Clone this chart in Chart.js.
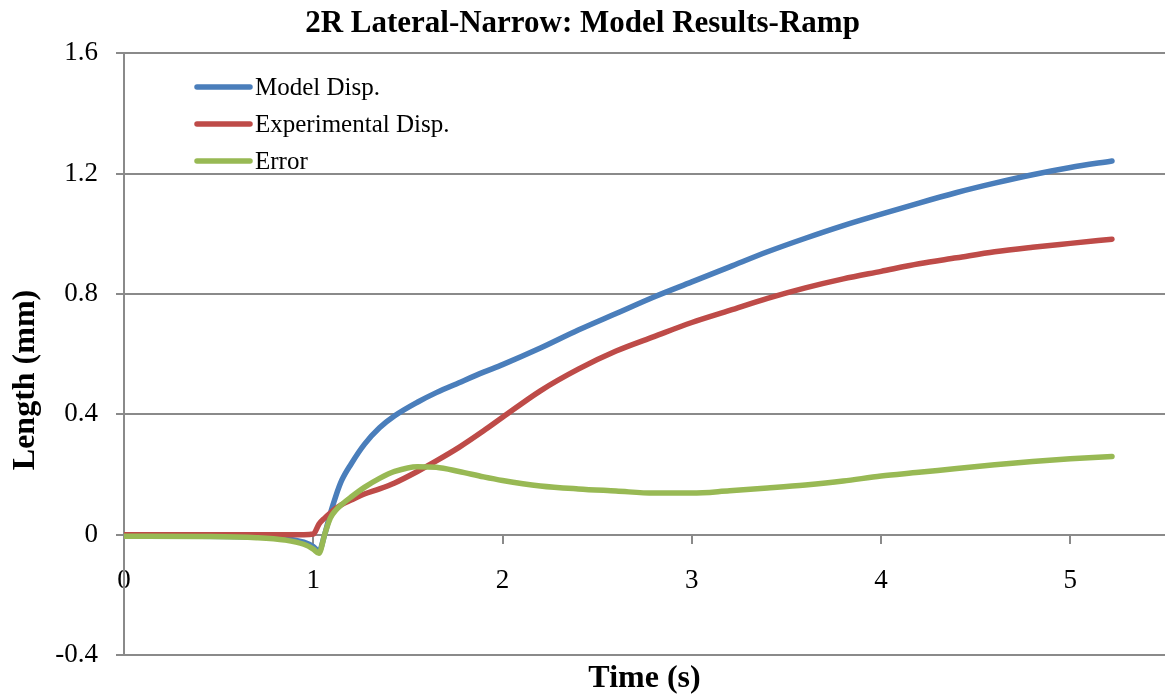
<!DOCTYPE html>
<html>
<head>
<meta charset="utf-8">
<title>2R Lateral-Narrow: Model Results-Ramp</title>
<script src="https://cdn.jsdelivr.net/npm/chart.js@4.4.1/dist/chart.umd.min.js"></script>
<style>
  html, body { margin: 0; padding: 0; background: #fff; }
  #wrap { width: 1165px; height: 698px; }
</style>
</head>
<body>
<div id="wrap"><canvas id="rampChart" width="1165" height="698"></canvas></div>
<script>
// ---- Data: time (s) and lengths (mm) ----
const timeS = [0, 0.4, 0.7, 0.85, 0.95, 1.0, 1.03, 1.06, 1.09, 1.12, 1.15, 1.2, 1.27, 1.35, 1.43, 1.55,
  1.65, 1.77, 1.9, 2.0, 2.2, 2.4, 2.6, 2.8, 3.0, 3.2, 3.4, 3.6, 3.8, 4.0, 4.2, 4.4, 4.6, 4.8, 5.0, 5.22];

const modelDisp = [-0.005, -0.005, -0.008, -0.013, -0.025, -0.04, -0.055, 0.0, 0.07, 0.13, 0.18, 0.235,
  0.30, 0.355, 0.395, 0.44, 0.472, 0.505, 0.54, 0.565, 0.62, 0.68, 0.735, 0.79, 0.84, 0.89, 0.94, 0.985,
  1.027, 1.065, 1.102, 1.137, 1.168, 1.196, 1.22, 1.242];

const experimentalDisp = [0, 0, 0, 0, 0, 0.002, 0.035, 0.055, 0.072, 0.088, 0.10, 0.115, 0.135, 0.152,
  0.172, 0.21, 0.245, 0.29, 0.345, 0.39, 0.478, 0.55, 0.61, 0.658, 0.705, 0.745, 0.785, 0.82, 0.85,
  0.875, 0.90, 0.92, 0.94, 0.955, 0.968, 0.982];

const errorDisp = [-0.005, -0.006, -0.01, -0.018, -0.032, -0.048, -0.062, 0.0, 0.055, 0.082, 0.10, 0.125,
  0.157, 0.187, 0.21, 0.226, 0.224, 0.21, 0.192, 0.18, 0.162, 0.152, 0.145, 0.138, 0.138, 0.146, 0.155,
  0.165, 0.178, 0.195, 0.207, 0.22, 0.232, 0.243, 0.252, 0.26];

const seriesLabels = ['Model Disp.', 'Experimental Disp.', 'Error'];
const xTicks = [0, 1, 2, 3, 4, 5];
const yTicks = [-0.4, 0, 0.4, 0.8, 1.2, 1.6];

// ---- Styles ----
const SERIF = "'Liberation Serif', 'Times New Roman', serif";
const GRID = '#8a8a8a';
const COLORS = ['#4a7ebb', '#be4b48', '#98b954'];

const toPoints = (ys) => timeS.map((t, i) => ({ x: t, y: ys[i] }));

function lineDataset(label, ys, color, order) {
  return {
    label,
    data: toPoints(ys),
    borderColor: color,
    backgroundColor: color,
    borderWidth: 5.5,
    borderCapStyle: 'round',
    borderJoinStyle: 'round',
    pointRadius: 0,
    cubicInterpolationMode: 'monotone',
    order
  };
}

// ---- Legend inside the plot, top-left ----
const insetLegend = {
  id: 'insetLegend',
  afterDatasetsDraw(chart) {
    const { ctx, chartArea } = chart;
    const x0 = chartArea.left + 73;
    const rows = [87, 124, 161];
    ctx.save();
    ctx.font = `25px ${SERIF}`;
    ctx.textAlign = 'left';
    ctx.textBaseline = 'middle';
    chart.data.datasets.forEach((ds, i) => {
      ctx.strokeStyle = ds.borderColor;
      ctx.lineWidth = 5.5;
      ctx.lineCap = 'round';
      ctx.beginPath();
      ctx.moveTo(x0, rows[i]);
      ctx.lineTo(x0 + 53, rows[i]);
      ctx.stroke();
      ctx.fillStyle = '#000';
      ctx.fillText(ds.label, x0 + 58, rows[i] + 1);
    });
    ctx.restore();
  }
};

// ---- Axis titles (x title sits below the plot, not at the y=0 axis) ----
const axisTitles = {
  id: 'axisTitles',
  afterDraw(chart) {
    const { ctx, chartArea } = chart;
    ctx.save();
    ctx.fillStyle = '#000';
    ctx.font = `bold 32px ${SERIF}`;
    ctx.textAlign = 'center';
    ctx.textBaseline = 'middle';
    ctx.fillText('Time (s)', (chartArea.left + chartArea.right) / 2, 679);
    ctx.translate(26, 380);
    ctx.rotate(-Math.PI / 2);
    ctx.fillText('Length (mm)', 0, 0);
    ctx.restore();
  }
};

new Chart(document.getElementById('rampChart').getContext('2d'), {
  type: 'line',
  data: {
    datasets: [
      lineDataset(seriesLabels[0], modelDisp, COLORS[0], 3),
      lineDataset(seriesLabels[1], experimentalDisp, COLORS[1], 2),
      lineDataset(seriesLabels[2], errorDisp, COLORS[2], 1)
    ]
  },
  options: {
    responsive: false,
    animation: false,
    layout: { padding: { left: 0, right: 0, top: 0, bottom: 43 } },
    plugins: {
      legend: { display: false },
      tooltip: { enabled: false },
      title: {
        display: true,
        text: '2R Lateral-Narrow: Model Results-Ramp',
        color: '#000',
        font: { family: SERIF, size: 31, weight: 'bold' },
        padding: { top: 5, bottom: 11 }
      }
    },
    scales: {
      x: {
        type: 'linear',
        min: 0,
        max: 5.5,
        position: { y: 0 },
        afterBuildTicks: (s) => { s.ticks = xTicks.map(v => ({ value: v })); },
        grid: { display: true, drawOnChartArea: false, drawTicks: true, tickLength: 8, color: GRID, lineWidth: 2 },
        border: { display: true, color: GRID, width: 2 },
        ticks: { color: '#000', font: { family: SERIF, size: 27 }, padding: 22, maxRotation: 0 }
      },
      y: {
        type: 'linear',
        min: -0.4,
        max: 1.6,
        afterBuildTicks: (s) => { s.ticks = yTicks.map(v => ({ value: v })); },
        afterFit: (s) => { s.width = 124; },
        grid: { color: GRID, lineWidth: 2, tickLength: 8, drawTicks: true },
        border: { display: true, color: GRID, width: 2 },
        ticks: {
          color: '#000',
          font: { family: SERIF, size: 27 },
          padding: 18,
          callback: (v) => String(Math.round(v * 10) / 10)
        }
      }
    }
  },
  plugins: [insetLegend, axisTitles]
});
</script>
</body>
</html>
